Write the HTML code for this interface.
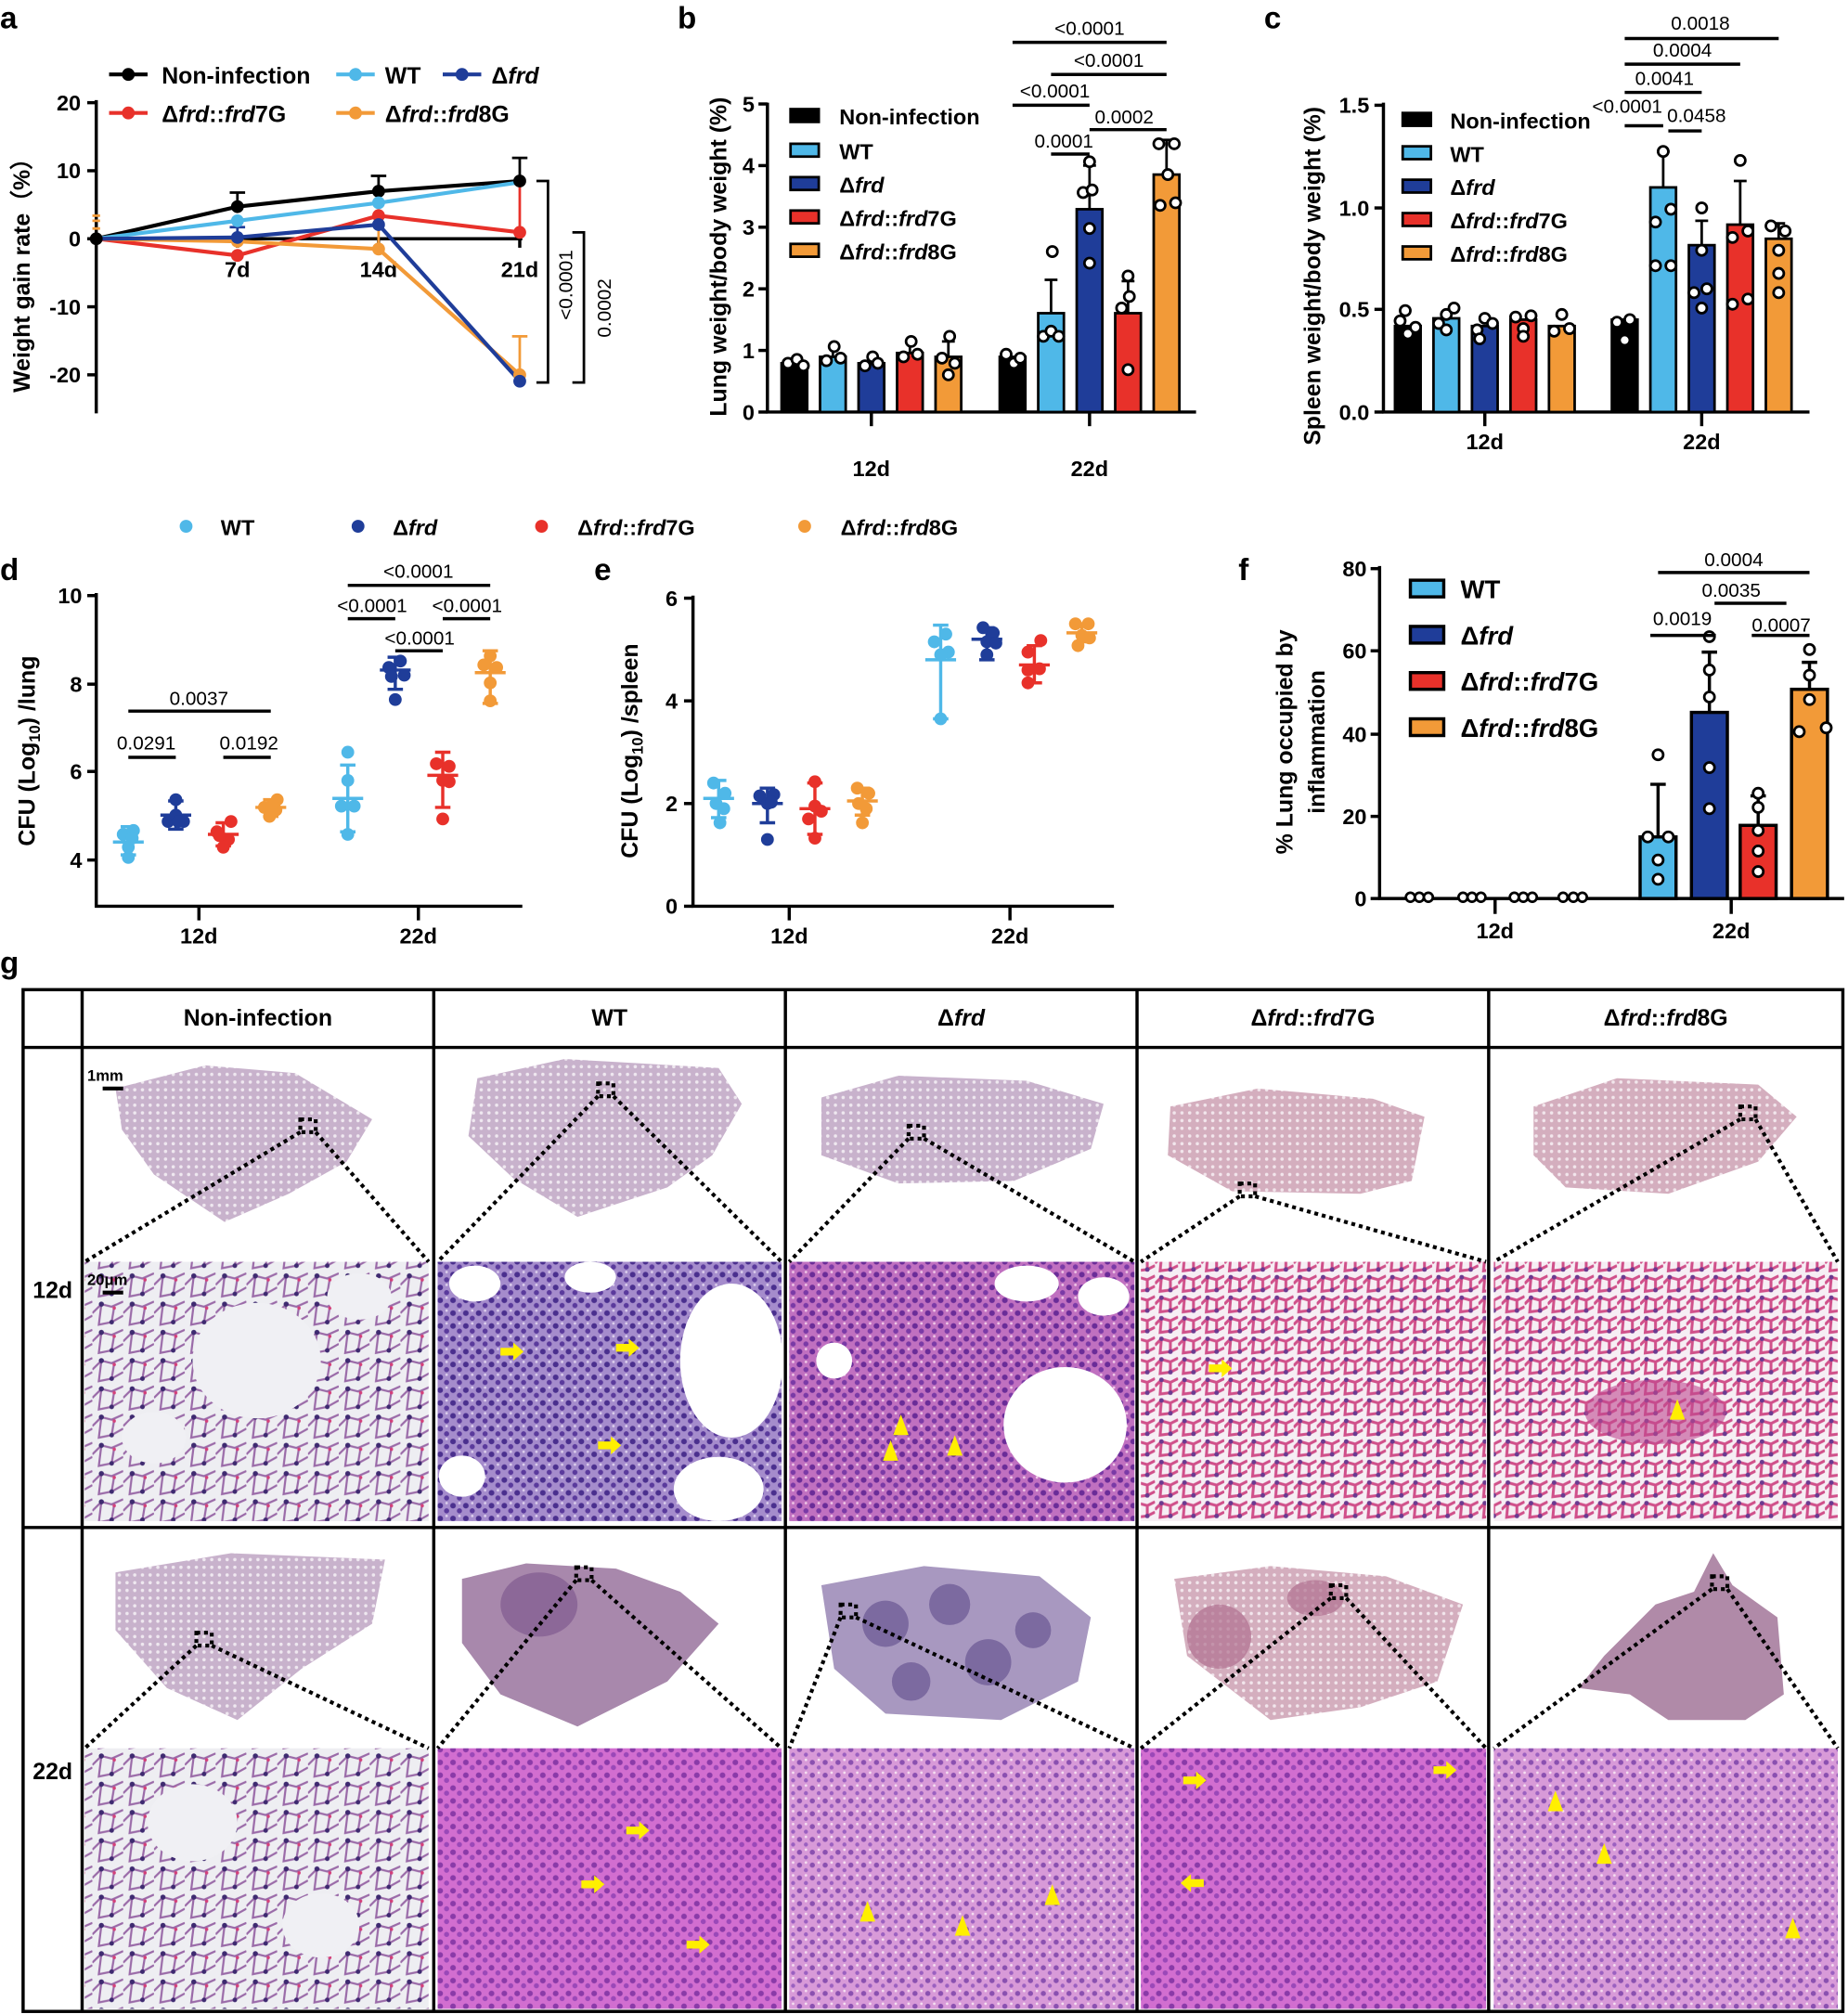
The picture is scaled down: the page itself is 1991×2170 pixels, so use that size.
<!DOCTYPE html>
<html><head><meta charset="utf-8"><style>html,body{margin:0;padding:0;background:#fff}svg{display:block}text{font-family:"Liberation Sans",Arial,sans-serif}</style></head>
<body>
<svg width="1991" height="2170" viewBox="0 0 1440 1569" preserveAspectRatio="none" xmlns="http://www.w3.org/2000/svg">
<defs>
<pattern id="alv" width="24" height="22" patternUnits="userSpaceOnUse"><rect width="24" height="22" fill="#eeeef2"/><path d="M0 11 L7 4 L15 6 L24 2 M7 4 L5 20 L15 18 L17 6 M15 18 L24 13" stroke="#9a6aa8" stroke-width="1.6" fill="none"/><circle cx="7" cy="4" r="2" fill="#3e2a70"/><circle cx="15" cy="18" r="1.8" fill="#3e2a70"/><circle cx="17" cy="7" r="1.3" fill="#d4407a"/></pattern>
<pattern id="alvp" width="18" height="16" patternUnits="userSpaceOnUse"><rect width="18" height="16" fill="#f6eef4"/><path d="M0 8 L5 3 L12 5 L18 2 M5 3 L4 14 L12 13 L12 5 M12 13 L18 10" stroke="#d0508a" stroke-width="2.2" fill="none"/><circle cx="5" cy="3" r="1.8" fill="#6a3a90"/><circle cx="12" cy="13" r="1.8" fill="#6a3a90"/></pattern>
<pattern id="dense" width="10" height="10" patternUnits="userSpaceOnUse"><rect width="10" height="10" fill="#a58ccc"/><circle cx="3" cy="3" r="2.2" fill="#4a2f8e"/><circle cx="8" cy="7" r="2" fill="#5a3a9c"/><circle cx="8" cy="1" r="1" fill="#ddd0ee"/></pattern>
<pattern id="densep" width="10" height="10" patternUnits="userSpaceOnUse"><rect width="10" height="10" fill="#c070c0"/><circle cx="3" cy="3" r="2.2" fill="#6a2c98"/><circle cx="8" cy="7" r="2" fill="#7a3aa6"/><circle cx="8" cy="1" r="1" fill="#f0c8e8"/></pattern>
<pattern id="densem" width="10" height="10" patternUnits="userSpaceOnUse"><rect width="10" height="10" fill="#d26ed0"/><circle cx="3" cy="3" r="2.2" fill="#8a3aa8"/><circle cx="8" cy="7" r="2" fill="#9a48b8"/></pattern>
<pattern id="densel" width="10" height="10" patternUnits="userSpaceOnUse"><rect width="10" height="10" fill="#d89ad8"/><circle cx="3" cy="3" r="2" fill="#8a50b0"/><circle cx="8" cy="7" r="1.6" fill="#9a60c0"/><circle cx="8" cy="1" r="1" fill="#f6e0f2"/></pattern>
<pattern id="ov" width="6" height="6" patternUnits="userSpaceOnUse"><rect width="6" height="6" fill="#c8b2cc"/><circle cx="3" cy="3" r="1.3" fill="#efe8f0"/></pattern>
<pattern id="ovp" width="6" height="6" patternUnits="userSpaceOnUse"><rect width="6" height="6" fill="#d4aebe"/><circle cx="3" cy="3" r="1.3" fill="#f2e6ec"/></pattern>
</defs>
<g font-weight="bold" fill="#000">
<text x="0" y="22" font-size="24">a</text>
<text x="528" y="22" font-size="24">b</text>
<text x="985" y="22" font-size="24">c</text>
<text x="0" y="452" font-size="24">d</text>
<text x="463" y="452" font-size="24">e</text>
<text x="965" y="452" font-size="24">f</text>
<text x="0" y="758" font-size="24">g</text>
</g>

<!-- ========== Panel a ========== -->
<g stroke-width="3" fill="none">
<line x1="85" y1="58" x2="115" y2="58" stroke="#000"/><circle cx="100" cy="58" r="5" fill="#000" stroke="none"/>
<line x1="262" y1="58" x2="292" y2="58" stroke="#4fb8e8"/><circle cx="277" cy="58" r="5" fill="#4fb8e8" stroke="none"/>
<line x1="345" y1="58" x2="375" y2="58" stroke="#1f3d99"/><circle cx="360" cy="58" r="5" fill="#1f3d99" stroke="none"/>
<line x1="85" y1="88" x2="115" y2="88" stroke="#e8312a"/><circle cx="100" cy="88" r="5" fill="#e8312a" stroke="none"/>
<line x1="262" y1="88" x2="292" y2="88" stroke="#f29a38"/><circle cx="277" cy="88" r="5" fill="#f29a38" stroke="none"/>
</g>
<g font-size="18" font-weight="bold">
<text x="126" y="65">Non-infection</text><text x="300" y="65">WT</text><text x="383" y="65">Δ<tspan font-style="italic">frd</tspan></text>
<text x="126" y="95">Δ<tspan font-style="italic">frd</tspan>::<tspan font-style="italic">frd</tspan>7G</text><text x="300" y="95">Δ<tspan font-style="italic">frd</tspan>::<tspan font-style="italic">frd</tspan>8G</text>
</g>
<g stroke="#000" stroke-width="2.5">
<line x1="75" y1="78" x2="75" y2="322"/>
<line x1="68" y1="80" x2="75" y2="80"/><line x1="68" y1="133" x2="75" y2="133"/><line x1="68" y1="186" x2="75" y2="186"/><line x1="68" y1="239" x2="75" y2="239"/><line x1="68" y1="292" x2="75" y2="292"/>
<line x1="75" y1="186" x2="407" y2="186"/>
<line x1="185" y1="186" x2="185" y2="193"/><line x1="295" y1="186" x2="295" y2="193"/><line x1="405" y1="186" x2="405" y2="193"/>
</g>
<g font-size="17" font-weight="bold" text-anchor="end">
<text x="63" y="86">20</text><text x="63" y="139">10</text><text x="63" y="192">0</text><text x="63" y="245">-10</text><text x="63" y="298">-20</text>
</g>
<g font-size="17" font-weight="bold" text-anchor="middle"><text x="185" y="216">7d</text><text x="295" y="216">14d</text><text x="405" y="216">21d</text></g>
<text transform="translate(23,210) rotate(-90)" font-size="18" font-weight="bold" text-anchor="middle">Weight gain rate（%）</text>
<g stroke-width="3" fill="none">
<polyline points="75,186 185,161 295,149 405,141" stroke="#000"/>
<polyline points="75,186 185,172 295,158 405,142" stroke="#4fb8e8"/>
<polyline points="75,186 185,199 295,168 405,181" stroke="#e8312a"/>
<polyline points="75,186 185,188 295,194 405,292" stroke="#f29a38"/>
<polyline points="75,186 185,185 295,175 405,297" stroke="#1f3d99"/>
</g>
<g stroke-width="2" fill="none">
<path d="M185 161 V150 M179 150 H191 M295 149 V137 M289 137 H301 M405 141 V123 M399 123 H411" stroke="#000"/>
<path d="M185 185 V177 M179 177 H191" stroke="#1f3d99"/>
<path d="M295 194 V175 M405 292 V262 M399 262 H411" stroke="#f29a38"/>
<path d="M405 181 V140" stroke="#e8312a"/>
<path d="M72 168 H78 M72 172 H78 M72 178 H78" stroke="#f29a38"/>
</g>
<g>
<circle cx="75" cy="186" r="5"/><circle cx="185" cy="161" r="5"/><circle cx="295" cy="149" r="5"/><circle cx="405" cy="141" r="5"/>
<circle cx="185" cy="172" r="5" fill="#4fb8e8"/><circle cx="295" cy="158" r="5" fill="#4fb8e8"/>
<circle cx="185" cy="199" r="5" fill="#e8312a"/><circle cx="295" cy="168" r="5" fill="#e8312a"/><circle cx="405" cy="181" r="5" fill="#e8312a"/>
<circle cx="185" cy="188" r="5" fill="#f29a38"/><circle cx="295" cy="194" r="5" fill="#f29a38"/><circle cx="405" cy="292" r="5" fill="#f29a38"/>
<circle cx="185" cy="185" r="5" fill="#1f3d99"/><circle cx="295" cy="175" r="5" fill="#1f3d99"/><circle cx="405" cy="297" r="5" fill="#1f3d99"/>
</g>
<g stroke="#000" stroke-width="2" fill="none">
<path d="M418 141 H427 V298 H418"/><path d="M446 181 H455 V298 H446"/>
</g>
<text transform="translate(446,222) rotate(-90)" font-size="15" text-anchor="middle">&lt;0.0001</text>
<text transform="translate(476,240) rotate(-90)" font-size="15" text-anchor="middle">0.0002</text>

<!-- ========== Panel b ========== -->
<g stroke="#000" stroke-width="2.5">
<line x1="598" y1="80" x2="598" y2="322"/><line x1="597" y1="321" x2="932" y2="321"/>
<line x1="591" y1="81" x2="598" y2="81"/><line x1="591" y1="129" x2="598" y2="129"/><line x1="591" y1="177" x2="598" y2="177"/><line x1="591" y1="225" x2="598" y2="225"/><line x1="591" y1="273" x2="598" y2="273"/><line x1="591" y1="321" x2="598" y2="321"/>
<line x1="679" y1="321" x2="679" y2="332"/><line x1="849" y1="321" x2="849" y2="332"/>
</g>
<g font-size="17" font-weight="bold" text-anchor="end">
<text x="588" y="87">5</text><text x="588" y="135">4</text><text x="588" y="183">3</text><text x="588" y="231">2</text><text x="588" y="279">1</text><text x="588" y="327">0</text>
</g>
<g font-size="17" font-weight="bold" text-anchor="middle"><text x="679" y="371">12d</text><text x="849" y="371">22d</text></g>
<text transform="translate(566,200) rotate(-90)" font-size="18" font-weight="bold" text-anchor="middle">Lung weight/body weight (%)</text>
<g stroke="#000" stroke-width="2">
<rect x="609" y="283" width="20" height="38" fill="#000"/>
<rect x="639" y="278" width="20" height="43" fill="#4fb8e8"/>
<rect x="669" y="283" width="20" height="38" fill="#1f3d99"/>
<rect x="699" y="275" width="20" height="46" fill="#e8312a"/>
<rect x="729" y="278" width="20" height="43" fill="#f29a38"/>
<rect x="779" y="278" width="20" height="43" fill="#000"/>
<rect x="809" y="244" width="20" height="77" fill="#4fb8e8"/>
<rect x="839" y="163" width="20" height="158" fill="#1f3d99"/>
<rect x="869" y="244" width="20" height="77" fill="#e8312a"/>
<rect x="899" y="136" width="20" height="185" fill="#f29a38"/>
<path d="M819 244 V218 M814 218 H824 M849 163 V129 M844 129 H854 M879 244 V219 M874 219 H884 M909 136 V109 M904 109 H914 M739 278 V266 M734 266 H744 M709 275 V267 M649 278 V270" fill="none"/>
</g>
<g fill="#fff" stroke="#000" stroke-width="2">
<circle cx="614" cy="283" r="4"/><circle cx="621" cy="280" r="4"/><circle cx="626" cy="285" r="4"/>
<circle cx="644" cy="281" r="4"/><circle cx="650" cy="270" r="4"/><circle cx="655" cy="279" r="4"/>
<circle cx="674" cy="285" r="4"/><circle cx="680" cy="278" r="4"/><circle cx="684" cy="283" r="4"/>
<circle cx="704" cy="278" r="4"/><circle cx="710" cy="266" r="4"/><circle cx="715" cy="276" r="4"/>
<circle cx="734" cy="279" r="4"/><circle cx="740" cy="262" r="4"/><circle cx="744" cy="283" r="4"/><circle cx="739" cy="292" r="4"/>
<circle cx="784" cy="276" r="4"/><circle cx="790" cy="283" r="4"/><circle cx="795" cy="279" r="4"/>
<circle cx="813" cy="262" r="4"/><circle cx="819" cy="258" r="4"/><circle cx="825" cy="262" r="4"/><circle cx="820" cy="196" r="4"/>
<circle cx="844" cy="150" r="4"/><circle cx="851" cy="148" r="4"/><circle cx="849" cy="178" r="4"/><circle cx="849" cy="205" r="4"/><circle cx="849" cy="126" r="4"/>
<circle cx="874" cy="240" r="4"/><circle cx="880" cy="231" r="4"/><circle cx="879" cy="215" r="4"/><circle cx="879" cy="288" r="4"/>
<circle cx="903" cy="112" r="4"/><circle cx="915" cy="112" r="4"/><circle cx="910" cy="136" r="4"/><circle cx="904" cy="160" r="4"/><circle cx="916" cy="158" r="4"/>
</g>
<g stroke="#000" stroke-width="2">
<rect x="616" y="85" width="22" height="10" fill="#000"/><rect x="616" y="112" width="22" height="10" fill="#4fb8e8"/><rect x="616" y="138" width="22" height="10" fill="#1f3d99"/><rect x="616" y="164" width="22" height="10" fill="#e8312a"/><rect x="616" y="190" width="22" height="10" fill="#f29a38"/>
</g>
<g font-size="17" font-weight="bold">
<text x="654" y="97">Non-infection</text><text x="654" y="124">WT</text><text x="654" y="150">Δ<tspan font-style="italic">frd</tspan></text><text x="654" y="176">Δ<tspan font-style="italic">frd</tspan>::<tspan font-style="italic">frd</tspan>7G</text><text x="654" y="202">Δ<tspan font-style="italic">frd</tspan>::<tspan font-style="italic">frd</tspan>8G</text>
</g>
<g stroke="#000" stroke-width="2.5">
<line x1="789" y1="33" x2="909" y2="33"/><line x1="819" y1="58" x2="909" y2="58"/><line x1="789" y1="82" x2="849" y2="82"/><line x1="849" y1="101" x2="909" y2="101"/><line x1="819" y1="120" x2="849" y2="120"/>
</g>
<g font-size="15" text-anchor="middle">
<text x="849" y="27">&lt;0.0001</text><text x="864" y="52">&lt;0.0001</text><text x="822" y="76">&lt;0.0001</text><text x="876" y="96">0.0002</text><text x="829" y="115">0.0001</text>
</g>

<!-- ========== Panel c ========== -->
<g stroke="#000" stroke-width="2.5">
<line x1="1078" y1="80" x2="1078" y2="322"/><line x1="1077" y1="321" x2="1410" y2="321"/>
<line x1="1071" y1="82" x2="1078" y2="82"/><line x1="1071" y1="162" x2="1078" y2="162"/><line x1="1071" y1="241" x2="1078" y2="241"/><line x1="1071" y1="321" x2="1078" y2="321"/>
<line x1="1157" y1="321" x2="1157" y2="332"/><line x1="1326" y1="321" x2="1326" y2="332"/>
</g>
<g font-size="17" font-weight="bold" text-anchor="end">
<text x="1067" y="88">1.5</text><text x="1067" y="168">1.0</text><text x="1067" y="247">0.5</text><text x="1067" y="327">0.0</text>
</g>
<g font-size="17" font-weight="bold" text-anchor="middle"><text x="1157" y="350">12d</text><text x="1326" y="350">22d</text></g>
<text transform="translate(1029,215) rotate(-90)" font-size="18" font-weight="bold" text-anchor="middle">Spleen weight/body weight (%)</text>
<g stroke="#000" stroke-width="2">
<rect x="1087" y="254" width="20" height="67" fill="#000"/>
<rect x="1117" y="248" width="20" height="73" fill="#4fb8e8"/>
<rect x="1147" y="254" width="20" height="67" fill="#1f3d99"/>
<rect x="1177" y="249" width="20" height="72" fill="#e8312a"/>
<rect x="1207" y="254" width="20" height="67" fill="#f29a38"/>
<rect x="1256" y="249" width="20" height="72" fill="#000"/>
<rect x="1286" y="146" width="20" height="175" fill="#4fb8e8"/>
<rect x="1316" y="191" width="20" height="130" fill="#1f3d99"/>
<rect x="1346" y="175" width="20" height="146" fill="#e8312a"/>
<rect x="1376" y="186" width="20" height="135" fill="#f29a38"/>
<path d="M1296 146 V118 M1291 118 H1301 M1326 191 V172 M1321 172 H1331 M1356 175 V141 M1351 141 H1361 M1386 186 V174 M1381 174 H1391" fill="none"/>
</g>
<g fill="#fff" stroke="#000" stroke-width="2">
<circle cx="1091" cy="250" r="4"/><circle cx="1097" cy="260" r="4"/><circle cx="1103" cy="255" r="4"/><circle cx="1095" cy="242" r="4"/>
<circle cx="1121" cy="252" r="4"/><circle cx="1127" cy="245" r="4"/><circle cx="1133" cy="240" r="4"/><circle cx="1127" cy="257" r="4"/>
<circle cx="1151" cy="257" r="4"/><circle cx="1157" cy="248" r="4"/><circle cx="1163" cy="252" r="4"/><circle cx="1153" cy="264" r="4"/>
<circle cx="1181" cy="247" r="4"/><circle cx="1187" cy="256" r="4"/><circle cx="1193" cy="246" r="4"/><circle cx="1187" cy="262" r="4"/>
<circle cx="1211" cy="258" r="4"/><circle cx="1217" cy="245" r="4"/><circle cx="1223" cy="256" r="4"/>
<circle cx="1260" cy="251" r="4"/><circle cx="1270" cy="249" r="4"/><circle cx="1266" cy="265" r="4"/>
<circle cx="1290" cy="173" r="4"/><circle cx="1296" cy="118" r="4"/><circle cx="1302" cy="163" r="4"/><circle cx="1290" cy="207" r="4"/><circle cx="1302" cy="207" r="4"/>
<circle cx="1326" cy="162" r="4"/><circle cx="1320" cy="228" r="4"/><circle cx="1330" cy="225" r="4"/><circle cx="1326" cy="240" r="4"/><circle cx="1326" cy="195" r="4"/>
<circle cx="1356" cy="125" r="4"/><circle cx="1350" cy="185" r="4"/><circle cx="1362" cy="180" r="4"/><circle cx="1350" cy="237" r="4"/><circle cx="1362" cy="233" r="4"/>
<circle cx="1380" cy="176" r="4"/><circle cx="1391" cy="180" r="4"/><circle cx="1386" cy="195" r="4"/><circle cx="1386" cy="213" r="4"/><circle cx="1386" cy="228" r="4"/>
</g>
<g stroke="#000" stroke-width="2">
<rect x="1093" y="88" width="22" height="10" fill="#000"/><rect x="1093" y="114" width="22" height="10" fill="#4fb8e8"/><rect x="1093" y="140" width="22" height="10" fill="#1f3d99"/><rect x="1093" y="166" width="22" height="10" fill="#e8312a"/><rect x="1093" y="192" width="22" height="10" fill="#f29a38"/>
</g>
<g font-size="17" font-weight="bold">
<text x="1130" y="100">Non-infection</text><text x="1130" y="126">WT</text><text x="1130" y="152">Δ<tspan font-style="italic">frd</tspan></text><text x="1130" y="178">Δ<tspan font-style="italic">frd</tspan>::<tspan font-style="italic">frd</tspan>7G</text><text x="1130" y="204">Δ<tspan font-style="italic">frd</tspan>::<tspan font-style="italic">frd</tspan>8G</text>
</g>
<g stroke="#000" stroke-width="2.5">
<line x1="1266" y1="30" x2="1386" y2="30"/><line x1="1266" y1="50" x2="1356" y2="50"/><line x1="1266" y1="72" x2="1326" y2="72"/><line x1="1266" y1="98" x2="1296" y2="98"/><line x1="1300" y1="102" x2="1326" y2="102"/>
</g>
<g font-size="15" text-anchor="middle">
<text x="1325" y="23">0.0018</text><text x="1311" y="44">0.0004</text><text x="1297" y="66">0.0041</text><text x="1268" y="88">&lt;0.0001</text><text x="1322" y="95">0.0458</text>
</g>

<!-- ========== Legend d/e ========== -->
<circle cx="145" cy="410" r="5" fill="#4fb8e8"/><circle cx="279" cy="410" r="5" fill="#1f3d99"/><circle cx="422" cy="410" r="5" fill="#e8312a"/><circle cx="627" cy="410" r="5" fill="#f29a38"/>
<g font-size="17" font-weight="bold">
<text x="172" y="417">WT</text><text x="306" y="417">Δ<tspan font-style="italic">frd</tspan></text><text x="450" y="417">Δ<tspan font-style="italic">frd</tspan>::<tspan font-style="italic">frd</tspan>7G</text><text x="655" y="417">Δ<tspan font-style="italic">frd</tspan>::<tspan font-style="italic">frd</tspan>8G</text>
</g>

<!-- ========== Panel d ========== -->
<g stroke="#000" stroke-width="2.5">
<line x1="75" y1="462" x2="75" y2="707"/><line x1="74" y1="706" x2="407" y2="706"/>
<line x1="68" y1="464" x2="75" y2="464"/><line x1="68" y1="533" x2="75" y2="533"/><line x1="68" y1="601" x2="75" y2="601"/><line x1="68" y1="670" x2="75" y2="670"/>
<line x1="155" y1="706" x2="155" y2="717"/><line x1="326" y1="706" x2="326" y2="717"/>
</g>
<g font-size="17" font-weight="bold" text-anchor="end">
<text x="64" y="470">10</text><text x="64" y="539">8</text><text x="64" y="607">6</text><text x="64" y="676">4</text>
</g>
<g font-size="17" font-weight="bold" text-anchor="middle"><text x="155" y="735">12d</text><text x="326" y="735">22d</text></g>
<text transform="translate(27,585) rotate(-90)" font-size="18" font-weight="bold" text-anchor="middle">CFU (Log<tspan font-size="12" dy="4">10</tspan><tspan dy="-4">) /lung</tspan></text>
<g stroke-width="2.5" fill="none">
<path d="M88 656 H112 M100 644 V666 M94 644 H106 M94 666 H106" stroke="#4fb8e8"/>
<path d="M125 635 H149 M137 624 V646 M131 624 H143 M131 646 H143" stroke="#1f3d99"/>
<path d="M162 650 H186 M174 641 V659 M168 641 H180 M168 659 H180" stroke="#e8312a"/>
<path d="M199 629 H223 M211 623 V636 M205 623 H217 M205 636 H217" stroke="#f29a38"/>
<path d="M259 622 H283 M271 596 V648 M265 596 H277 M265 648 H277" stroke="#4fb8e8"/>
<path d="M296 522 H320 M308 512 V537 M302 512 H314 M302 537 H314" stroke="#1f3d99"/>
<path d="M333 604 H357 M345 586 V629 M339 586 H351 M339 629 H351" stroke="#e8312a"/>
<path d="M370 524 H394 M382 507 V548 M376 507 H388 M376 548 H388" stroke="#f29a38"/>
</g>
<g fill="#4fb8e8"><circle cx="96" cy="650" r="5"/><circle cx="104" cy="647" r="5"/><circle cx="100" cy="668" r="5"/><circle cx="100" cy="660" r="5"/><circle cx="103" cy="653" r="5"/>
<circle cx="271" cy="586" r="5"/><circle cx="271" cy="608" r="5"/><circle cx="266" cy="628" r="5"/><circle cx="276" cy="628" r="5"/><circle cx="271" cy="650" r="5"/></g>
<g fill="#1f3d99"><circle cx="137" cy="623" r="5"/><circle cx="131" cy="640" r="5"/><circle cx="143" cy="640" r="5"/><circle cx="137" cy="635" r="5"/><circle cx="139" cy="640" r="5"/>
<circle cx="303" cy="520" r="5"/><circle cx="312" cy="515" r="5"/><circle cx="315" cy="526" r="5"/><circle cx="308" cy="545" r="5"/><circle cx="305" cy="527" r="5"/></g>
<g fill="#e8312a"><circle cx="180" cy="640" r="5"/><circle cx="169" cy="648" r="5"/><circle cx="178" cy="654" r="5"/><circle cx="174" cy="660" r="5"/><circle cx="171" cy="651" r="5"/>
<circle cx="340" cy="595" r="5"/><circle cx="350" cy="597" r="5"/><circle cx="345" cy="608" r="5"/><circle cx="350" cy="609" r="5"/><circle cx="345" cy="638" r="5"/></g>
<g fill="#f29a38"><circle cx="216" cy="623" r="5"/><circle cx="206" cy="629" r="5"/><circle cx="215" cy="631" r="5"/><circle cx="210" cy="636" r="5"/><circle cx="212" cy="627" r="5"/>
<circle cx="382" cy="511" r="5"/><circle cx="377" cy="518" r="5"/><circle cx="387" cy="520" r="5"/><circle cx="382" cy="532" r="5"/><circle cx="382" cy="546" r="5"/></g>
<g stroke="#000" stroke-width="2.5">
<line x1="100" y1="554" x2="211" y2="554"/><line x1="100" y1="590" x2="137" y2="590"/><line x1="174" y1="590" x2="211" y2="590"/>
<line x1="271" y1="456" x2="382" y2="456"/><line x1="271" y1="482" x2="308" y2="482"/><line x1="345" y1="482" x2="382" y2="482"/><line x1="308" y1="507" x2="345" y2="507"/>
</g>
<g font-size="15" text-anchor="middle">
<text x="155" y="549">0.0037</text><text x="114" y="584">0.0291</text><text x="194" y="584">0.0192</text>
<text x="326" y="450">&lt;0.0001</text><text x="290" y="477">&lt;0.0001</text><text x="364" y="477">&lt;0.0001</text><text x="327" y="502">&lt;0.0001</text>
</g>

<!-- ========== Panel e ========== -->
<g stroke="#000" stroke-width="2.5">
<line x1="540" y1="464" x2="540" y2="707"/><line x1="539" y1="706" x2="868" y2="706"/>
<line x1="533" y1="466" x2="540" y2="466"/><line x1="533" y1="546" x2="540" y2="546"/><line x1="533" y1="626" x2="540" y2="626"/><line x1="533" y1="706" x2="540" y2="706"/>
<line x1="615" y1="706" x2="615" y2="717"/><line x1="787" y1="706" x2="787" y2="717"/>
</g>
<g font-size="17" font-weight="bold" text-anchor="end">
<text x="528" y="472">6</text><text x="528" y="552">4</text><text x="528" y="632">2</text><text x="528" y="712">0</text>
</g>
<g font-size="17" font-weight="bold" text-anchor="middle"><text x="615" y="735">12d</text><text x="787" y="735">22d</text></g>
<text transform="translate(497,585) rotate(-90)" font-size="18" font-weight="bold" text-anchor="middle">CFU (Log<tspan font-size="12" dy="4">10</tspan><tspan dy="-4">) /spleen</tspan></text>
<g stroke-width="2.5" fill="none">
<path d="M548 622 H572 M560 608 V637 M554 608 H566 M554 637 H566" stroke="#4fb8e8"/>
<path d="M586 626 H610 M598 614 V641 M592 614 H604 M592 641 H604" stroke="#1f3d99"/>
<path d="M623 630 H647 M635 610 V650 M629 610 H641 M629 650 H641" stroke="#e8312a"/>
<path d="M660 624 H684 M672 614 V635 M666 614 H678 M666 635 H678" stroke="#f29a38"/>
<path d="M721 514 H745 M733 487 V560 M727 487 H739 M727 560 H739" stroke="#4fb8e8"/>
<path d="M757 498 H781 M769 489 V514 M763 489 H775 M763 514 H775" stroke="#1f3d99"/>
<path d="M794 518 H818 M806 503 V532 M800 503 H812 M800 532 H812" stroke="#e8312a"/>
<path d="M831 493 H855 M843 486 V500 M837 486 H849 M837 500 H849" stroke="#f29a38"/>
</g>
<g fill="#4fb8e8"><circle cx="556" cy="610" r="5"/><circle cx="565" cy="618" r="5"/><circle cx="558" cy="626" r="5"/><circle cx="564" cy="630" r="5"/><circle cx="561" cy="641" r="5"/>
<circle cx="728" cy="500" r="5"/><circle cx="737" cy="494" r="5"/><circle cx="739" cy="508" r="5"/><circle cx="733" cy="510" r="5"/><circle cx="733" cy="560" r="5"/></g>
<g fill="#1f3d99"><circle cx="592" cy="620" r="5"/><circle cx="603" cy="619" r="5"/><circle cx="598" cy="626" r="5"/><circle cx="601" cy="625" r="5"/><circle cx="598" cy="654" r="5"/>
<circle cx="766" cy="489" r="5"/><circle cx="774" cy="493" r="5"/><circle cx="769" cy="500" r="5"/><circle cx="776" cy="501" r="5"/><circle cx="769" cy="510" r="5"/></g>
<g fill="#e8312a"><circle cx="635" cy="609" r="5"/><circle cx="635" cy="628" r="5"/><circle cx="630" cy="638" r="5"/><circle cx="635" cy="653" r="5"/><circle cx="640" cy="632" r="5"/>
<circle cx="811" cy="499" r="5"/><circle cx="801" cy="508" r="5"/><circle cx="801" cy="522" r="5"/><circle cx="810" cy="521" r="5"/><circle cx="801" cy="532" r="5"/></g>
<g fill="#f29a38"><circle cx="668" cy="614" r="5"/><circle cx="677" cy="618" r="5"/><circle cx="669" cy="626" r="5"/><circle cx="675" cy="630" r="5"/><circle cx="672" cy="641" r="5"/>
<circle cx="838" cy="486" r="5"/><circle cx="848" cy="486" r="5"/><circle cx="843" cy="495" r="5"/><circle cx="840" cy="503" r="5"/><circle cx="849" cy="497" r="5"/></g>

<!-- ========== Panel f ========== -->
<g stroke="#000" stroke-width="2.5">
<line x1="1075" y1="441" x2="1075" y2="701"/><line x1="1074" y1="700" x2="1437" y2="700"/>
<line x1="1068" y1="443" x2="1075" y2="443"/><line x1="1068" y1="507" x2="1075" y2="507"/><line x1="1068" y1="572" x2="1075" y2="572"/><line x1="1068" y1="636" x2="1075" y2="636"/><line x1="1068" y1="700" x2="1075" y2="700"/>
<line x1="1165" y1="700" x2="1165" y2="712"/><line x1="1349" y1="700" x2="1349" y2="712"/>
</g>
<g font-size="17" font-weight="bold" text-anchor="end">
<text x="1065" y="449">80</text><text x="1065" y="513">60</text><text x="1065" y="578">40</text><text x="1065" y="642">20</text><text x="1065" y="706">0</text>
</g>
<g font-size="17" font-weight="bold" text-anchor="middle"><text x="1165" y="731">12d</text><text x="1349" y="731">22d</text></g>
<text transform="translate(1007,578) rotate(-90)" font-size="18" font-weight="bold" text-anchor="middle">% Lung occupied by</text>
<text transform="translate(1032,578) rotate(-90)" font-size="18" font-weight="bold" text-anchor="middle">inflammation</text>
<g stroke="#000" stroke-width="2.5">
<rect x="1278" y="652" width="28" height="48" fill="#4fb8e8"/>
<rect x="1318" y="555" width="28" height="145" fill="#1f3d99"/>
<rect x="1356" y="643" width="28" height="57" fill="#e8312a"/>
<rect x="1396" y="537" width="28" height="163" fill="#f29a38"/>
<path d="M1292 652 V611 M1286 611 H1298 M1332 555 V508 M1326 508 H1338 M1370 643 V620 M1364 620 H1376 M1410 537 V516 M1404 516 H1416" fill="none"/>
</g>
<g fill="#fff" stroke="#000" stroke-width="2">
<circle cx="1099" cy="699" r="3.5"/><circle cx="1106" cy="699" r="3.5"/><circle cx="1113" cy="699" r="3.5"/>
<circle cx="1140" cy="699" r="3.5"/><circle cx="1147" cy="699" r="3.5"/><circle cx="1154" cy="699" r="3.5"/>
<circle cx="1180" cy="699" r="3.5"/><circle cx="1187" cy="699" r="3.5"/><circle cx="1194" cy="699" r="3.5"/>
<circle cx="1218" cy="699" r="3.5"/><circle cx="1226" cy="699" r="3.5"/><circle cx="1233" cy="699" r="3.5"/>
<circle cx="1292" cy="588" r="4"/><circle cx="1284" cy="652" r="4"/><circle cx="1300" cy="652" r="4"/><circle cx="1292" cy="670" r="4"/><circle cx="1292" cy="685" r="4"/>
<circle cx="1332" cy="496" r="4"/><circle cx="1332" cy="522" r="4"/><circle cx="1332" cy="543" r="4"/><circle cx="1332" cy="598" r="4"/><circle cx="1332" cy="630" r="4"/>
<circle cx="1370" cy="618" r="4"/><circle cx="1370" cy="629" r="4"/><circle cx="1370" cy="647" r="4"/><circle cx="1370" cy="663" r="4"/><circle cx="1370" cy="679" r="4"/>
<circle cx="1410" cy="506" r="4"/><circle cx="1410" cy="526" r="4"/><circle cx="1410" cy="545" r="4"/><circle cx="1402" cy="570" r="4"/><circle cx="1423" cy="567" r="4"/>
</g>
<g stroke="#000" stroke-width="2.5">
<rect x="1099" y="452" width="26" height="13" fill="#4fb8e8"/><rect x="1099" y="488" width="26" height="13" fill="#1f3d99"/><rect x="1099" y="524" width="26" height="13" fill="#e8312a"/><rect x="1099" y="560" width="26" height="13" fill="#f29a38"/>
</g>
<g font-size="20" font-weight="bold">
<text x="1138" y="466">WT</text><text x="1138" y="502">Δ<tspan font-style="italic">frd</tspan></text><text x="1138" y="538">Δ<tspan font-style="italic">frd</tspan>::<tspan font-style="italic">frd</tspan>7G</text><text x="1138" y="574">Δ<tspan font-style="italic">frd</tspan>::<tspan font-style="italic">frd</tspan>8G</text>
</g>
<g stroke="#000" stroke-width="2.5">
<line x1="1292" y1="446" x2="1410" y2="446"/><line x1="1336" y1="470" x2="1392" y2="470"/><line x1="1286" y1="495" x2="1337" y2="495"/><line x1="1365" y1="495" x2="1410" y2="495"/>
</g>
<g font-size="15" text-anchor="middle">
<text x="1351" y="441">0.0004</text><text x="1349" y="465">0.0035</text><text x="1311" y="487">0.0019</text><text x="1388" y="492">0.0007</text>
</g>

<!-- ========== Panel g ========== -->
<rect x="66" y="983" width="268" height="202" fill="url(#alv)"/>
<g fill="#f0f0f4"><ellipse cx="200" cy="1060" rx="50" ry="45"/><ellipse cx="120" cy="1120" rx="25" ry="20"/><ellipse cx="280" cy="1010" rx="25" ry="18"/></g>
<rect x="341" y="983" width="268" height="202" fill="url(#dense)"/>
<g fill="#fff"><ellipse cx="370" cy="1000" rx="20" ry="14"/><ellipse cx="570" cy="1060" rx="40" ry="60"/><ellipse cx="560" cy="1160" rx="35" ry="25"/><ellipse cx="460" cy="995" rx="20" ry="12"/><ellipse cx="360" cy="1150" rx="18" ry="16"/></g>
<rect x="615" y="983" width="269" height="202" fill="url(#densep)"/>
<g fill="#fff"><ellipse cx="830" cy="1110" rx="48" ry="45"/><ellipse cx="800" cy="1000" rx="25" ry="14"/><ellipse cx="650" cy="1060" rx="14" ry="14"/><ellipse cx="860" cy="1010" rx="20" ry="15"/></g>
<rect x="889" y="983" width="269" height="202" fill="url(#alvp)"/>
<rect x="1164" y="983" width="268" height="202" fill="url(#alvp)"/>
<ellipse cx="1290" cy="1100" rx="55" ry="25" fill="#c04890" opacity="0.6"/>
<rect x="66" y="1362" width="268" height="203" fill="url(#alv)"/>
<g fill="#f0f0f4"><ellipse cx="150" cy="1420" rx="35" ry="30"/><ellipse cx="250" cy="1500" rx="30" ry="25"/></g>
<rect x="341" y="1362" width="268" height="203" fill="url(#densem)"/>
<rect x="615" y="1362" width="269" height="203" fill="url(#densel)"/>
<rect x="889" y="1362" width="269" height="203" fill="url(#densem)"/>
<rect x="1164" y="1362" width="268" height="203" fill="url(#densel)"/>
<!-- overview lungs -->
<path d="M90 848 L160 830 L230 836 L290 872 L270 905 L225 930 L175 952 L120 915 L95 880 Z" fill="url(#ov)"/>
<path d="M372 840 L440 825 L560 832 L578 860 L555 900 L520 925 L450 948 L400 918 L365 885 Z" fill="url(#ov)"/>
<path d="M640 855 L700 838 L800 842 L860 860 L850 895 L790 920 L700 922 L640 900 Z" fill="url(#ov)"/>
<path d="M912 862 L980 848 L1070 856 L1110 870 L1100 920 L1060 930 L960 928 L910 900 Z" fill="url(#ovp)"/>
<path d="M1195 862 L1260 840 L1370 845 L1400 870 L1370 905 L1300 930 L1220 925 L1195 900 Z" fill="url(#ovp)"/>
<path d="M90 1225 L180 1210 L300 1215 L290 1265 L235 1300 L185 1340 L130 1315 L90 1270 Z" fill="url(#ov)"/>
<path d="M360 1230 L410 1218 L480 1222 L530 1240 L560 1265 L520 1310 L450 1345 L390 1320 L360 1280 Z" fill="#a888ac"/>
<ellipse cx="420" cy="1250" rx="30" ry="25" fill="#8c6898"/>
<path d="M640 1235 L720 1220 L810 1228 L850 1260 L840 1310 L780 1340 L690 1335 L650 1300 Z" fill="#a898c0"/>
<g fill="#7c6aa0"><circle cx="690" cy="1265" r="18"/><circle cx="740" cy="1250" r="16"/><circle cx="770" cy="1295" r="18"/><circle cx="710" cy="1310" r="15"/><circle cx="805" cy="1270" r="14"/></g>
<path d="M915 1230 L990 1220 L1080 1228 L1140 1250 L1120 1310 L1060 1330 L990 1340 L925 1290 Z" fill="url(#ovp)"/>
<ellipse cx="950" cy="1275" rx="25" ry="25" fill="#b07090" opacity="0.7"/><ellipse cx="1025" cy="1245" rx="22" ry="14" fill="#b07090" opacity="0.7"/>
<path d="M1335 1210 L1350 1235 L1385 1260 L1390 1320 L1360 1340 L1300 1340 L1270 1320 L1230 1315 L1250 1290 L1290 1250 L1320 1240 Z" fill="#b08aa8"/>
<line x1="80" y1="848" x2="96" y2="848" stroke="#000" stroke-width="3"/><text x="68" y="842" font-size="12" font-weight="bold">1mm</text>
<line x1="80" y1="1007" x2="96" y2="1007" stroke="#000" stroke-width="3"/><text x="68" y="1001" font-size="12" font-weight="bold">20μm</text>
<g stroke="#000" stroke-width="3" stroke-dasharray="3,3" fill="none">
<rect x="234" y="872" width="12" height="10"/><path d="M234 882 L66 983 M246 882 L334 983"/>
<rect x="466" y="844" width="12" height="10"/><path d="M466 854 L341 983 M478 854 L609 983"/>
<rect x="708" y="877" width="12" height="10"/><path d="M708 887 L615 983 M720 887 L884 983"/>
<rect x="966" y="922" width="12" height="10"/><path d="M966 932 L889 983 M978 932 L1158 983"/>
<rect x="1356" y="862" width="12" height="10"/><path d="M1356 872 L1164 983 M1368 872 L1432 983"/>
<rect x="153" y="1272" width="12" height="10"/><path d="M153 1282 L66 1362 M165 1282 L334 1362"/>
<rect x="449" y="1221" width="12" height="10"/><path d="M449 1231 L341 1362 M461 1231 L609 1362"/>
<rect x="655" y="1250" width="12" height="10"/><path d="M655 1260 L615 1362 M667 1260 L884 1362"/>
<rect x="1037" y="1235" width="12" height="10"/><path d="M1037 1245 L889 1362 M1049 1245 L1158 1362"/>
<rect x="1334" y="1228" width="12" height="10"/><path d="M1334 1238 L1164 1362 M1346 1238 L1432 1362"/>
</g>
<g fill="#ffef00">
<path d="M390 1050 h10 v-4 l8 7 l-8 7 v-4 h-10 z"/><path d="M480 1047 h10 v-4 l8 7 l-8 7 v-4 h-10 z"/><path d="M466 1123 h10 v-4 l8 7 l-8 7 v-4 h-10 z"/>
<path d="M702 1102 l6 16 h-12 z"/><path d="M694 1122 l6 16 h-12 z"/><path d="M744 1118 l6 16 h-12 z"/>
<path d="M942 1063 h10 v-4 l8 7 l-8 7 v-4 h-10 z"/>
<path d="M1307 1090 l6 16 h-12 z"/>
<path d="M488 1423 h10 v-4 l8 7 l-8 7 v-4 h-10 z"/><path d="M453 1465 h10 v-4 l8 7 l-8 7 v-4 h-10 z"/><path d="M535 1512 h10 v-4 l8 7 l-8 7 v-4 h-10 z"/>
<path d="M676 1481 l6 16 h-12 z"/><path d="M750 1492 l6 16 h-12 z"/><path d="M820 1468 l6 16 h-12 z"/>
<path d="M922 1384 h10 v-4 l8 7 l-8 7 v-4 h-10 z"/><path d="M1117 1376 h10 v-4 l8 7 l-8 7 v-4 h-10 z"/><path d="M938 1464 h-10 v-4 l-8 7 l8 7 v-4 h10 z"/>
<path d="M1212 1395 l6 16 h-12 z"/><path d="M1250 1436 l6 16 h-12 z"/><path d="M1397 1494 l6 16 h-12 z"/>
</g>
<g stroke="#000" stroke-width="2.5" fill="none">
<rect x="18" y="771" width="1418" height="796"/>
<line x1="18" y1="816" x2="1436" y2="816"/><line x1="18" y1="1190" x2="1436" y2="1190"/>
<line x1="64" y1="771" x2="64" y2="1567"/><line x1="338" y1="771" x2="338" y2="1567"/><line x1="612" y1="771" x2="612" y2="1567"/><line x1="886" y1="771" x2="886" y2="1567"/><line x1="1160" y1="771" x2="1160" y2="1567"/>
</g>
<g font-size="18" font-weight="bold" text-anchor="middle">
<text x="201" y="799">Non-infection</text><text x="475" y="799">WT</text><text x="749" y="799">Δ<tspan font-style="italic">frd</tspan></text><text x="1023" y="799">Δ<tspan font-style="italic">frd</tspan>::<tspan font-style="italic">frd</tspan>7G</text><text x="1298" y="799">Δ<tspan font-style="italic">frd</tspan>::<tspan font-style="italic">frd</tspan>8G</text>
<text x="41" y="1011">12d</text><text x="41" y="1386">22d</text>
</g>
</svg>
</body></html>
